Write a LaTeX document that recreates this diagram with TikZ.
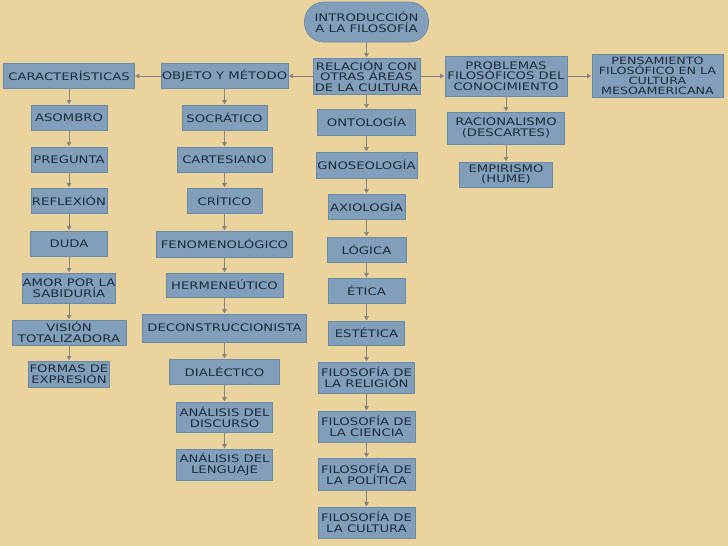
\documentclass[tikz,border=0pt]{standalone}
\usepackage{fontspec}
\setmainfont[FakeStretch=1.27]{DejaVu Sans}
\usetikzlibrary{arrows.meta}

\definecolor{papel}{HTML}{EAD39C}
\definecolor{cajafondo}{HTML}{819FBB}
\definecolor{cajaborde}{HTML}{6A89A6}
\definecolor{letra}{HTML}{1E2B38}
\definecolor{flecha}{HTML}{858585}

\begin{document}
\begin{tikzpicture}[x=1pt,y=-1pt,semithick]
\tikzstyle{concepto}=[rectangle,draw=cajaborde,fill=cajafondo,text=letra,inner sep=0pt,align=center,font=\fontsize{10.4}{10.6}\selectfont]
\tikzstyle{conector}=[draw=flecha,-{Triangle[width=4.5pt,length=4pt]},shorten >=0.5pt]
%
\path[fill=papel,use as bounding box] (0,0) rectangle (728,546);
%
\node[concepto,rounded corners=19pt,minimum width=124pt,minimum height=40pt] (intro) at (366.5,22) {INTRODUCCIÓN\\A LA FILOSOFÍA};
%
\node[concepto,minimum width=107pt,minimum height=36pt] (rel) at (366.5,76) {RELACIÓN CON\\OTRAS ÁREAS\\DE LA CULTURA};
\node[concepto,minimum width=127pt,minimum height=25pt] (obj) at (224.5,76) {OBJETO Y MÉTODO};
\node[concepto,minimum width=131pt,minimum height=25pt] (carac) at (69,76) {CARACTERÍSTICAS};
\node[concepto,minimum width=122pt,minimum height=40pt] (prob) at (506,76) {PROBLEMAS\\FILOSÓFICOS DEL\\CONOCIMIENTO};
\node[concepto,minimum width=131pt,minimum height=43pt,font=\fontsize{10}{10.2}\selectfont] (pens) at (657.5,76) {PENSAMIENTO\\FILOSÓFICO EN LA\\CULTURA\\MESOAMERICANA};
% caracteristicas
\node[concepto,minimum width=76pt,minimum height=25pt] (asombro) at (69,117.5) {ASOMBRO};
\node[concepto,minimum width=76pt,minimum height=25pt] (pregunta) at (69,159.5) {PREGUNTA};
\node[concepto,minimum width=76pt,minimum height=25pt] (reflexion) at (69,200.5) {REFLEXIÓN};
\node[concepto,minimum width=77pt,minimum height=25pt] (duda) at (69,243.5) {DUDA};
\node[concepto,minimum width=93pt,minimum height=30pt] (amor) at (69,288) {AMOR POR LA\\SABIDURÍA};
\node[concepto,minimum width=114pt,minimum height=25pt] (vision) at (69,332.5) {VISIÓN\\TOTALIZADORA};
\node[concepto,minimum width=81pt,minimum height=26pt] (formas) at (69,374) {FORMAS DE\\EXPRESIÓN};
% objeto y metodo
\node[concepto,minimum width=85pt,minimum height=25pt] (socratico) at (224.5,117.5) {SOCRÁTICO};
\node[concepto,minimum width=95pt,minimum height=25pt] (cartesiano) at (224.5,159.5) {CARTESIANO};
\node[concepto,minimum width=75pt,minimum height=25pt] (critico) at (224.5,200.5) {CRÍTICO};
\node[concepto,minimum width=136pt,minimum height=26pt] (fenom) at (224.5,244) {FENOMENOLÓGICO};
\node[concepto,minimum width=117pt,minimum height=24pt] (herme) at (224.5,285) {HERMENEÚTICO};
\node[concepto,minimum width=164pt,minimum height=28pt] (decons) at (224.5,328) {DECONSTRUCCIONISTA};
\node[concepto,minimum width=110pt,minimum height=25pt] (dialec) at (224.5,371.5) {DIALÉCTICO};
\node[concepto,minimum width=96pt,minimum height=30pt] (discurso) at (224.5,417) {ANÁLISIS DEL\\DISCURSO};
\node[concepto,minimum width=96pt,minimum height=31pt] (lenguaje) at (224.5,464.5) {ANÁLISIS DEL\\LENGUAJE};
% relacion con otras areas
\node[concepto,minimum width=98pt,minimum height=26pt] (ontologia) at (366.5,122) {ONTOLOGÍA};
\node[concepto,minimum width=101pt,minimum height=26pt] (gnoseo) at (366.5,165) {GNOSEOLOGÍA};
\node[concepto,minimum width=77pt,minimum height=25pt] (axio) at (366.5,206.5) {AXIOLOGÍA};
\node[concepto,minimum width=79pt,minimum height=25pt] (logica) at (366.5,249.5) {LÓGICA};
\node[concepto,minimum width=77pt,minimum height=25pt] (etica) at (366.5,290.5) {ÉTICA};
\node[concepto,minimum width=76pt,minimum height=24pt] (estetica) at (366.5,333) {ESTÉTICA};
\node[concepto,minimum width=96pt,minimum height=31pt] (religion) at (366.5,377.5) {FILOSOFÍA DE\\LA RELIGIÓN};
\node[concepto,minimum width=97pt,minimum height=31pt] (ciencia) at (366.5,426.5) {FILOSOFÍA DE\\LA CIENCIA};
\node[concepto,minimum width=97pt,minimum height=32pt] (politica) at (366.5,474) {FILOSOFÍA DE\\LA POLÍTICA};
\node[concepto,minimum width=97pt,minimum height=31pt] (cultura) at (366.5,522.5) {FILOSOFÍA DE\\LA CULTURA};
% problemas
\node[concepto,minimum width=117pt,minimum height=32pt] (racional) at (506,128) {RACIONALISMO\\(DESCARTES)};
\node[concepto,minimum width=93pt,minimum height=25pt] (empirismo) at (506,174.5) {EMPIRISMO\\(HUME)};

\path (intro) edge[conector] (rel);
\path (rel) edge[conector] (obj);
\path (obj) edge[conector] (carac);
\path (rel) edge[conector] (prob);
\path (prob) edge[conector] (pens);
\foreach \a/\b in {carac/asombro,asombro/pregunta,pregunta/reflexion,reflexion/duda,duda/amor,amor/vision,vision/formas,
  obj/socratico,socratico/cartesiano,cartesiano/critico,critico/fenom,fenom/herme,herme/decons,decons/dialec,dialec/discurso,discurso/lenguaje,
  rel/ontologia,ontologia/gnoseo,gnoseo/axio,axio/logica,logica/etica,etica/estetica,estetica/religion,religion/ciencia,ciencia/politica,politica/cultura,
  prob/racional,racional/empirismo}
  \path (\a) edge[conector] (\b);
\end{tikzpicture}
\end{document}
